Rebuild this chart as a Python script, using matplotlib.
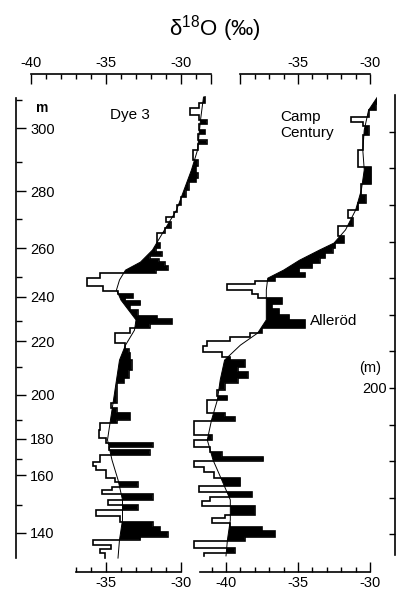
import matplotlib.pyplot as plt
import numpy as np

plt.rcParams['font.family'] = ['Liberation Sans', 'DejaVu Sans']
plt.rcParams['mathtext.fontset'] = 'custom'
plt.rcParams['mathtext.rm'] = 'Liberation Sans'

# common vertical scale = Camp Century depth (m, right-hand axis)
# Dye 3: top of each step on the common scale, and its d18O value
dye3_top = [279.5, 277.9, 276.5, 274.6, 273.2, 272.1, 270.5, 269.4, 267.7, 266.7,
            265.0, 262.3, 260.6, 258.7, 257.4, 256.3, 254.1, 252.2, 250.0, 248.1,
            246.7, 245.3, 243.7, 242.3, 239.6, 238.2, 237.2, 236.1, 235.2, 234.4,
            233.3, 232.2, 231.4, 230.0, 227.9, 226.5, 225.7, 224.6, 223.8, 222.7,
            221.3, 219.7, 218.8, 217.5, 216.4, 215.0, 212.3, 210.6, 209.6, 207.6,
            204.9, 202.7, 201.4, 198.1, 195.9, 194.5, 193.2, 191.3, 190.4, 188.5,
            186.3, 185.0, 183.9, 183.1, 181.7, 179.8, 178.7, 177.6, 175.4, 174.3,
            173.0, 172.1, 171.0, 169.4, 168.0, 166.7, 165.0, 163.4, 162.0, 160.7,
            159.3, 158.5, 157.1, 156.0, 154.9]
dye3_d18o = [-28.4, -28.8, -29.4, -28.8, -28.3, -28.8, -28.4, -28.9, -28.3, -28.9,
             -29.2, -28.9, -29.0, -28.9, -29.0, -29.5, -29.7, -30.0, -30.3, -30.5,
             -31.0, -30.7, -31.1, -31.6, -31.4, -31.7, -31.3, -32.1, -31.5, -31.1,
             -30.9, -31.7, -35.4, -36.3, -35.2, -34.2, -33.2, -33.7, -32.7, -33.4,
             -32.9, -31.6, -30.6, -32.1, -33.4, -34.4, -33.7, -33.5, -33.4, -33.3,
             -33.5, -33.8, -34.3, -34.3, -34.7, -34.3, -33.4, -34.3, -35.4, -35.5,
             -35.0, -31.9, -34.8, -32.1, -35.4, -35.9, -35.7, -35.0, -34.4, -32.9,
             -34.6, -35.3, -31.9, -34.9, -32.9, -35.7, -34.1, -31.9, -31.4, -30.9,
             -32.7, -35.9, -34.7, -35.4, -35.1]
dye3_bottom = 153.5
# smoothed Dye 3 curve
dye3_smooth_lev = [279.5, 273.2, 265.0, 259.6, 254.1, 248.6, 243.2, 237.7, 234.4, 232.2,
                   229.5, 226.8, 224.0, 221.3, 218.6, 215.8, 211.7, 207.6, 202.2, 196.7,
                   191.3, 185.8, 180.3, 174.9, 169.4, 163.9, 158.5, 153.5]
dye3_smooth_val = [-28.5, -28.7, -28.9, -29.3, -29.8, -30.3, -31.1, -31.9, -32.7, -33.7,
                   -34.1, -34.3, -34.0, -33.5, -33.0, -33.1, -33.7, -34.1, -34.3, -34.5,
                   -34.7, -34.9, -34.6, -34.2, -33.9, -33.9, -34.1, -34.2]

# Camp Century steps
cc_top = [280.6, 279.8, 277.6, 275.9, 274.0, 272.7, 271.6, 269.1, 265.0, 260.4,
          255.7, 252.7, 250.5, 248.6, 246.4, 244.3, 241.5, 239.6, 238.2, 236.9,
          235.5, 234.1, 232.8, 231.4, 230.3, 229.2, 228.4, 226.8, 225.7, 224.6,
          222.9, 221.6, 219.9, 218.6, 216.4, 215.0, 213.9, 212.8, 211.5, 209.8,
          208.5, 207.6, 205.7, 204.4, 202.7, 201.4, 199.5, 197.8, 196.7, 193.2,
          192.1, 191.0, 187.2, 185.8, 183.9, 182.5, 181.1, 180.1, 178.4, 177.0,
          175.4, 173.2, 171.6, 170.2, 169.1, 167.8, 165.3, 164.5, 163.1, 162.0,
          160.9, 159.3, 158.2, 156.3, 154.9]
cc_d18o = [-29.2, -29.1, -29.6, -30.1, -31.3, -30.5, -30.1, -30.5, -30.8, -29.9,
           -30.6, -30.3, -30.8, -31.5, -31.2, -32.2, -31.8, -32.4, -32.6, -33.1,
           -33.5, -34.0, -34.9, -34.5, -36.6, -38.0, -39.9, -38.2, -37.8, -36.1,
           -36.8, -36.3, -35.6, -34.5, -37.5, -38.3, -39.7, -41.3, -41.6, -40.3,
           -39.7, -38.7, -39.2, -38.5, -39.2, -40.1, -40.6, -39.9, -41.3, -40.1,
           -39.4, -42.2, -41.0, -42.2, -41.1, -40.3, -37.4, -42.2, -41.5, -40.8,
           -39.0, -41.9, -38.2, -41.1, -41.7, -38.0, -40.1, -41.0, -39.7, -37.5,
           -36.6, -38.7, -42.2, -39.4, -41.5]
cc_bottom = 154.1
cc_smooth_lev = [280.6, 275.9, 270.5, 265.0, 259.6, 254.1, 248.6, 243.2, 239.6, 237.7,
                 234.9, 232.2, 230.0, 226.8, 224.0, 218.6, 215.0, 211.7, 207.6, 202.2,
                 196.7, 191.3, 185.8, 180.3, 174.9, 169.4, 163.9, 158.5, 154.1]
cc_smooth_val = [-29.3, -30.1, -30.4, -30.5, -30.4, -30.6, -31.0, -31.7, -32.5, -33.5,
                 -34.9, -36.0, -37.1, -37.2, -37.2, -37.2, -37.8, -39.0, -40.1, -40.4,
                 -40.6, -41.0, -41.3, -40.9, -40.3, -39.7, -39.7, -39.9, -40.0]

# Dye 3 depth marks (left axis) and where they sit on the common scale
dye3_depth = [310, 300, 290, 280, 270, 260, 250, 240, 230, 220, 210, 200, 190, 180, 170, 160, 150, 140]
dye3_depth_lev = [278.7, 271.0, 261.7, 253.8, 246.2, 238.2, 230.3, 224.9, 218.3, 212.8,
                  205.7, 198.1, 191.3, 186.1, 180.6, 176.2, 168.0, 160.4]
# Camp Century depth marks (right axis)
cc_depth = [160, 170, 180, 190, 200, 210, 220, 230, 240, 250, 260, 270]


def draw_profile(ax, top, d18o, bottom, s_lev, s_val):
    edges = np.append(top, bottom)
    # stepped outline of the raw values
    ys = np.repeat(edges, 2)[1:-1]
    xs = np.repeat(d18o, 2)
    ax.plot(xs, ys, color='k', lw=1.2, solid_joinstyle='miter')
    # smoothed curve
    ax.plot(s_val, s_lev, color='k', lw=0.7)
    # black where the values are above the smoothed curve
    y = np.linspace(bottom, top[0], 5000)
    i = np.searchsorted(-edges, -y, side='right') - 1
    i = np.clip(i, 0, len(d18o) - 1)
    step = np.asarray(d18o)[i]
    smooth = np.interp(y, s_lev[::-1], s_val[::-1])
    ax.fill_betweenx(y, smooth, step, where=step > smooth, color='k', lw=0, interpolate=True)


W, H = 399.0, 589.0
lev_lo, lev_hi = 149.7, 285.8
bot = 1 - 572 / H
hgt = (572 - 74) / H

fig = plt.figure(figsize=(3.99, 5.89), dpi=100)


def style_x(ax, side, bounds, major, labels, minor):
    for s in ['left', 'right', 'top', 'bottom']:
        ax.spines[s].set_visible(s == side)
    ax.spines[side].set_bounds(*bounds)
    ax.spines[side].set_linewidth(1.2)
    ax.set_xticks(major, labels)
    ax.set_xticks(minor, minor=True)
    ax.tick_params(axis='x', which='major', direction='in', length=7, width=1.0,
                   labelsize=10.5, pad=3)
    ax.tick_params(axis='x', which='minor', direction='in', length=3.5, width=1.0)
    ax.set_yticks([])
    ax.patch.set_visible(False)


# Dye 3 panel
ax1 = fig.add_axes([31 / W, bot, 180 / W, hgt])
ax1.set_xlim(-40, -28)
ax1.set_ylim(lev_lo, lev_hi)
draw_profile(ax1, dye3_top, dye3_d18o, dye3_bottom, dye3_smooth_lev, dye3_smooth_val)
style_x(ax1, 'bottom', (-37, -30), [-35, -30], ['-35', '-30'], [-37, -36, -34, -33, -32, -31])
ax1t = ax1.twiny()
ax1t.set_xlim(-40, -28)
style_x(ax1t, 'top', (-40, -28), [-40, -35, -30, -28], ['-40', '-35', '-30', ''],
        [-39, -38, -37, -36, -34, -33, -32, -31, -29])
ax1.text(-33.4, 274.6, 'Dye 3', ha='center', va='center', fontsize=11)

# Camp Century panel
ax2 = fig.add_axes([190 / W, bot, 187.2 / W, hgt])
ax2.set_xlim(-42.5, -29.5)
ax2.set_ylim(lev_lo, lev_hi)
draw_profile(ax2, cc_top, cc_d18o, cc_bottom, cc_smooth_lev, cc_smooth_val)
style_x(ax2, 'bottom', (-41.8, -30), [-40, -35, -30], ['-40', '-35', '-30'],
        [-41, -39, -38, -37, -36, -34, -33, -32, -31])
ax2t = ax2.twiny()
ax2t.set_xlim(-42.5, -29.5)
style_x(ax2t, 'top', (-39, -30), [-39, -35, -30], ['', '-35', '-30'],
        [-38, -37, -36, -34, -33, -32, -31])
ax2.text(-36.25, 271.8, 'Camp\nCentury', ha='left', va='center', fontsize=11, linespacing=1.15)
ax2.text(-34.2, 218.3, 'Alleröd', ha='left', va='center', fontsize=11)

# Dye 3 depth axis on the left
axd = fig.add_axes([16 / W, bot, 0.001, hgt])
axd.set_ylim(lev_lo, lev_hi)
for s in ['left', 'top', 'bottom']:
    axd.spines[s].set_visible(False)
axd.spines['right'].set_bounds(153.5, 279.2)
axd.spines['right'].set_linewidth(1.2)
axd.yaxis.tick_right()
axd.set_xticks([])
axd.set_yticks(dye3_depth_lev[1::2], [str(d) for d in dye3_depth[1::2]])
axd.set_yticks(dye3_depth_lev[0::2], minor=True)
axd.tick_params(axis='y', which='major', direction='out', length=7, width=1.0,
                labelsize=10.5, pad=3)
axd.tick_params(axis='y', which='minor', direction='out', length=4, width=1.0)
axd.patch.set_visible(False)
fig.text(42 / W, 1 - 108 / H, 'm', ha='center', va='center', fontsize=10, fontweight='bold')

# Camp Century depth axis on the right
axr = fig.add_axes([395 / W, bot, 0.001, hgt])
axr.set_ylim(lev_lo, lev_hi)
for s in ['right', 'top', 'bottom']:
    axr.spines[s].set_visible(False)
axr.spines['left'].set_bounds(154.4, 280.0)
axr.spines['left'].set_linewidth(1.2)
axr.set_xticks([])
axr.set_yticks(cc_depth, [str(d) if d == 200 else '' for d in cc_depth])
axr.tick_params(axis='y', direction='out', length=4, width=1.0, labelsize=10.5, pad=2)
axr.patch.set_visible(False)
fig.text(370 / W, 1 - 368 / H, '(m)', ha='center', va='center', fontsize=10.5)

fig.text(215 / W, 1 - 29 / H, r'δ$^{18}$O (‰)', ha='center', va='center', fontsize=16)

fig.savefig('out.png', dpi=100)
